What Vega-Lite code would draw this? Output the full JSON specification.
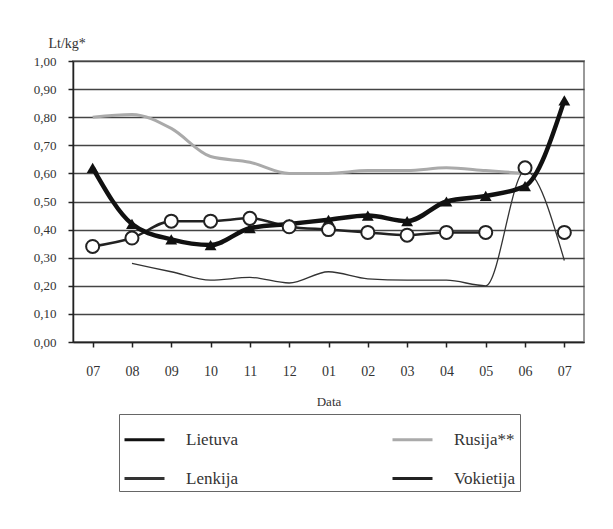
{
  "$schema": "https://vega.github.io/schema/vega-lite/v6.json",
  "width": 511,
  "height": 281,
  "autosize": {"type": "none"},
  "padding": {"left": 73, "top": 61, "right": 29, "bottom": 187},
  "background": "white",
  "config": {
    "font": "Liberation Serif",
    "view": {"stroke": "#999", "strokeWidth": 2}
  },
  "data": {
    "values": [
      {"period": "2004-07", "series": "Lietuva", "value": 0.62},
      {"period": "2004-08", "series": "Lietuva", "value": 0.42},
      {"period": "2004-09", "series": "Lietuva", "value": 0.365},
      {"period": "2004-10", "series": "Lietuva", "value": 0.345},
      {"period": "2004-11", "series": "Lietuva", "value": 0.405},
      {"period": "2004-12", "series": "Lietuva", "value": 0.42},
      {"period": "2005-01", "series": "Lietuva", "value": 0.435},
      {"period": "2005-02", "series": "Lietuva", "value": 0.45},
      {"period": "2005-03", "series": "Lietuva", "value": 0.43},
      {"period": "2005-04", "series": "Lietuva", "value": 0.50},
      {"period": "2005-05", "series": "Lietuva", "value": 0.52},
      {"period": "2005-06", "series": "Lietuva", "value": 0.555},
      {"period": "2005-07", "series": "Lietuva", "value": 0.86},
      {"period": "2004-07", "series": "Rusija**", "value": 0.80},
      {"period": "2004-08", "series": "Rusija**", "value": 0.81},
      {"period": "2004-09", "series": "Rusija**", "value": 0.76},
      {"period": "2004-10", "series": "Rusija**", "value": 0.66},
      {"period": "2004-11", "series": "Rusija**", "value": 0.64},
      {"period": "2004-12", "series": "Rusija**", "value": 0.60},
      {"period": "2005-01", "series": "Rusija**", "value": 0.60},
      {"period": "2005-02", "series": "Rusija**", "value": 0.61},
      {"period": "2005-03", "series": "Rusija**", "value": 0.61},
      {"period": "2005-04", "series": "Rusija**", "value": 0.62},
      {"period": "2005-05", "series": "Rusija**", "value": 0.61},
      {"period": "2005-06", "series": "Rusija**", "value": 0.60},
      {"period": "2004-08", "series": "Lenkija", "value": 0.28},
      {"period": "2004-09", "series": "Lenkija", "value": 0.25},
      {"period": "2004-10", "series": "Lenkija", "value": 0.22},
      {"period": "2004-11", "series": "Lenkija", "value": 0.23},
      {"period": "2004-12", "series": "Lenkija", "value": 0.21},
      {"period": "2005-01", "series": "Lenkija", "value": 0.25},
      {"period": "2005-02", "series": "Lenkija", "value": 0.225},
      {"period": "2005-03", "series": "Lenkija", "value": 0.22},
      {"period": "2005-04", "series": "Lenkija", "value": 0.22},
      {"period": "2005-05", "series": "Lenkija", "value": 0.20},
      {"period": "2005-06", "series": "Lenkija", "value": 0.61},
      {"period": "2005-07", "series": "Lenkija", "value": 0.29},
      {"period": "2004-07", "series": "Vokietija", "value": 0.34},
      {"period": "2004-08", "series": "Vokietija", "value": 0.37},
      {"period": "2004-09", "series": "Vokietija", "value": 0.43},
      {"period": "2004-10", "series": "Vokietija", "value": 0.43},
      {"period": "2004-11", "series": "Vokietija", "value": 0.44},
      {"period": "2004-12", "series": "Vokietija", "value": 0.41},
      {"period": "2005-01", "series": "Vokietija", "value": 0.40},
      {"period": "2005-02", "series": "Vokietija", "value": 0.39},
      {"period": "2005-03", "series": "Vokietija", "value": 0.38},
      {"period": "2005-04", "series": "Vokietija", "value": 0.39},
      {"period": "2005-05", "series": "Vokietija", "value": 0.39},
      {"period": "2005-06", "series": "Vokietija", "value": 0.62},
      {"period": "2005-07", "series": "Vokietija", "value": 0.39}
    ]
  },
  "encoding": {
    "x": {
      "field": "period",
      "type": "ordinal",
      "title": "Data",
      "axis": {
        "labelExpr": "slice(datum.value, 5)",
        "labelAngle": 0,
        "labelFontSize": 14,
        "labelColor": "#333",
        "labelPadding": 17,
        "tickSize": 5,
        "tickColor": "#222",
        "tickWidth": 1.5,
        "domainColor": "#222",
        "domainWidth": 1.5,
        "titleFontSize": 13,
        "titleFontWeight": "normal",
        "titleColor": "#333",
        "titlePadding": 17,
        "grid": false
      }
    },
    "y": {
      "field": "value",
      "type": "quantitative",
      "scale": {"domain": [0, 1], "nice": false},
      "title": "Lt/kg*",
      "axis": {
        "values": [0, 0.1, 0.2, 0.3, 0.4, 0.5, 0.6, 0.7, 0.8, 0.9, 1],
        "labelExpr": "replace(format(datum.value, '.2f'), '.', ',')",
        "labelFontSize": 13,
        "labelColor": "#333",
        "labelPadding": 12,
        "tickSize": 5,
        "tickColor": "#222",
        "tickWidth": 1.5,
        "domainColor": "#222",
        "domainWidth": 1.5,
        "gridColor": "#444",
        "gridWidth": 1.5,
        "titleAngle": 0,
        "titleAlign": "left",
        "titleBaseline": "middle",
        "titleX": -25,
        "titleY": -18,
        "titleFontSize": 14,
        "titleFontWeight": "normal",
        "titleColor": "#333"
      }
    },
    "color": {
      "field": "series",
      "type": "nominal",
      "scale": {
        "domain": ["Lietuva", "Lenkija", "Rusija**", "Vokietija"],
        "range": ["#111", "#333", "#aaa", "#222"]
      },
      "legend": {
        "orient": "none",
        "legendX": 46,
        "legendY": 353,
        "columns": 2,
        "title": null,
        "strokeColor": "#666",
        "padding": 4,
        "labelFontSize": 17,
        "labelColor": "#333",
        "symbolType": "stroke",
        "symbolSize": 1600,
        "symbolStrokeWidth": 3,
        "labelOffset": 20,
        "columnPadding": 148,
        "rowPadding": 9
      }
    }
  },
  "layer": [
    {
      "transform": [{"filter": "datum.series === 'Rusija**'"}],
      "mark": {"type": "line", "interpolate": "monotone", "strokeWidth": 3},
      "encoding": {}
    },
    {
      "transform": [{"filter": "datum.series === 'Lenkija'"}],
      "mark": {"type": "line", "interpolate": "monotone", "strokeWidth": 1.3},
      "encoding": {}
    },
    {
      "transform": [{"filter": "datum.series === 'Vokietija' && datum.period <= '2005-05'"}],
      "mark": {"type": "line", "interpolate": "monotone", "strokeWidth": 2.5},
      "encoding": {}
    },
    {
      "transform": [{"filter": "datum.series === 'Lietuva'"}],
      "mark": {"type": "line", "interpolate": "monotone", "strokeWidth": 4.5},
      "encoding": {}
    },
    {
      "transform": [{"filter": "datum.series === 'Lietuva'"}],
      "mark": {"type": "point", "shape": "triangle-up", "filled": true, "size": 140, "opacity": 1},
      "encoding": {}
    },
    {
      "transform": [{"filter": "datum.series === 'Vokietija'"}],
      "mark": {"type": "point", "shape": "circle", "filled": true, "fill": "white", "stroke": "#222", "strokeWidth": 2, "size": 170, "opacity": 1},
      "encoding": {}
    }
  ]
}
